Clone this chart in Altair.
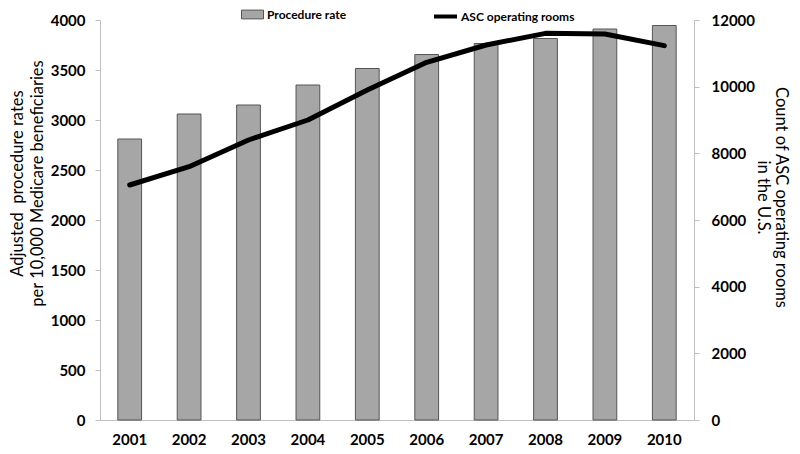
import altair as alt
import pandas as pd

years = ["2001", "2002", "2003", "2004", "2005", "2006", "2007", "2008", "2009", "2010"]
procedure_rate = [2810, 3060, 3150, 3350, 3515, 3655, 3765, 3815, 3910, 3945]
asc_rooms = [7050, 7600, 8400, 9000, 9900, 10730, 11250, 11600, 11580, 11230]

df = pd.DataFrame({
    "year": years,
    "rate": procedure_rate,
    "rooms": asc_rooms,
    "s1": "Procedure rate",
    "s2": "ASC operating rooms",
})

FONT = "Lato"
AXIS_GRAY = "#BFBFBF"
NB = "\u00a0"

x = alt.X("year:N", title=None, scale=alt.Scale(paddingInner=0.6, paddingOuter=0.3),
          axis=alt.Axis(labelAngle=0, ticks=False, domainColor=AXIS_GRAY, labelPadding=12,
                        labelFont=FONT, labelFontSize=15, labelFontWeight="bold", labelColor="black"))

bars = alt.Chart(df).mark_bar(stroke="#555555", strokeWidth=1).encode(
    x=x,
    y=alt.Y("rate:Q", scale=alt.Scale(domain=[0, 4000]),
            axis=alt.Axis(values=[0, 500, 1000, 1500, 2000, 2500, 3000, 3500, 4000], format="d",
                          title=["Adjusted" + NB + NB + "procedure rates" + NB * 18,
                                 "per 10,000 Medicare beneficiaries"],
                          grid=False, domainColor=AXIS_GRAY, tickColor=AXIS_GRAY, tickSize=5,
                          labelPadding=10, labelFont=FONT, labelFontSize=15, labelFontWeight="bold",
                          labelColor="black", titleFont=FONT, titleFontSize=16.5, titleFontWeight="normal",
                          titleColor="black", titlePadding=5, titleLineHeight=20, titleY=163)),
    fill=alt.Fill("s1:N", scale=alt.Scale(domain=["Procedure rate"], range=["#A6A6A6"]),
                  legend=alt.Legend(title=None, orient="none", legendX=141, legendY=-17,
                                    symbolType="M-1,-0.4H1V0.4H-1Z", symbolSize=484,
                                    symbolStrokeColor="#555555", symbolStrokeWidth=1,
                                    labelFont=FONT, labelFontSize=12, labelFontWeight="bold",
                                    labelColor="black", labelOffset=3, padding=0)),
)

line = alt.Chart(df).mark_line(strokeWidth=5, strokeJoin="round", strokeCap="round").encode(
    x=x,
    y=alt.Y("rooms:Q", scale=alt.Scale(domain=[0, 12000]),
            axis=alt.Axis(values=[0, 2000, 4000, 6000, 8000, 10000, 12000], format="d",
                          title=["Count of ASC operating rooms", "in the U.S."],
                          grid=False, domainColor=AXIS_GRAY, tickColor=AXIS_GRAY, tickSize=5,
                          labelPadding=12, labelFont=FONT, labelFontSize=15, labelFontWeight="bold",
                          labelColor="black", titleFont=FONT, titleFontSize=16.5, titleFontWeight="normal",
                          titleColor="black", titlePadding=0, titleLineHeight=18, titleY=177)),
    stroke=alt.Stroke("s2:N", scale=alt.Scale(domain=["ASC operating rooms"], range=["black"]),
                      legend=alt.Legend(title=None, orient="none", legendX=332, legendY=-17,
                                        symbolType="stroke", symbolSize=529, symbolStrokeWidth=4,
                                        labelFont=FONT, labelFontSize=12, labelFontWeight="bold",
                                        labelColor="black", labelOffset=2, padding=0)),
)

chart = alt.layer(bars, line).resolve_scale(y="independent").properties(
    width=594, height=400,
    autosize=alt.AutoSizeParams(type="none"),
    padding={"left": 92, "top": 12, "right": 98, "bottom": 26},
    background="white",
).configure_view(stroke=None)

chart.save("out.html", embed_options={"renderer": "svg", "actions": False})
